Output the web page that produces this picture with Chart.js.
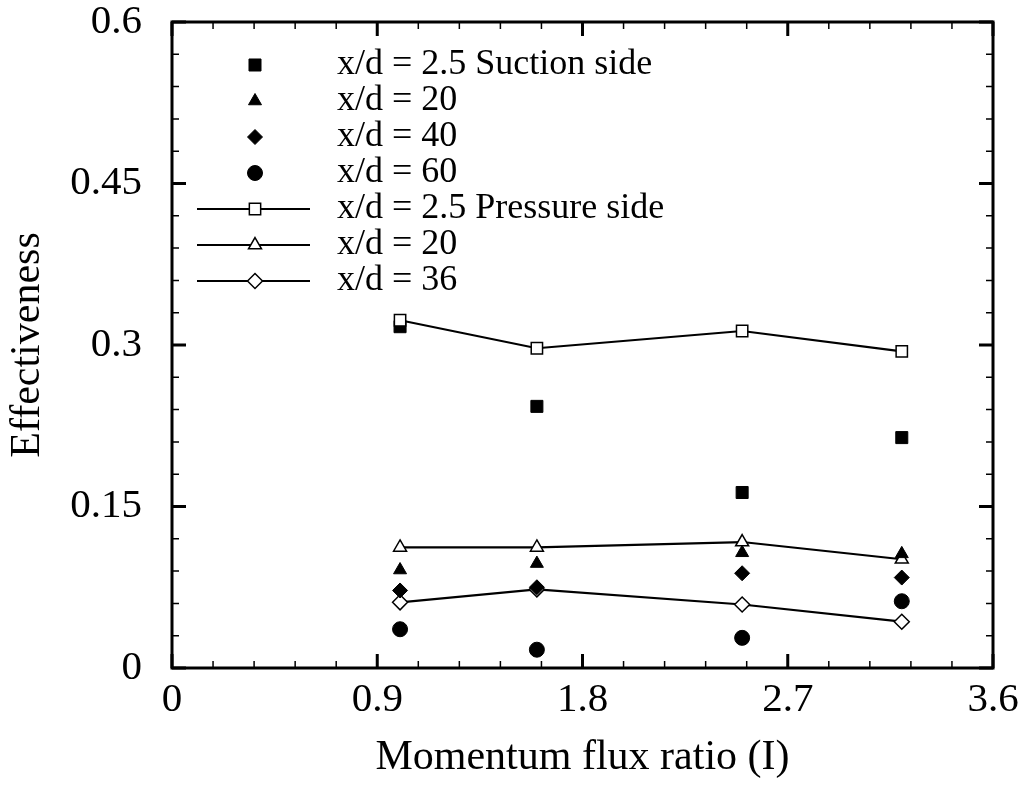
<!DOCTYPE html>
<html>
<head>
<meta charset="utf-8">
<title>Effectiveness vs momentum flux ratio</title>
<script src="https://cdn.jsdelivr.net/npm/chart.js@4/dist/chart.umd.min.js"></script>
<style>
  html, body { margin: 0; padding: 0; background: #ffffff; }
  #wrap { width: 1019px; height: 793px; position: relative; }
</style>
</head>
<body>
<div id="wrap"><canvas id="chart"></canvas></div>
<script>
// Momentum flux ratio I at which the measurements were taken
const momentumRatio = [1.0, 1.6, 2.5, 3.2];

// Suction side effectiveness (symbols only)
const suction25 = [0.317, 0.243, 0.163, 0.214];
const suction20 = [0.091, 0.097, 0.107, 0.106];
const suction40 = [0.072, 0.075, 0.088, 0.084];
const suction60 = [0.036, 0.017, 0.028, 0.062];

// Pressure side effectiveness (symbols joined by lines)
const pressure25 = [0.323, 0.297, 0.313, 0.294];
const pressure20 = [0.112, 0.112, 0.117, 0.101];
const pressure36 = [0.061, 0.073, 0.059, 0.043];

// Series labels
const seriesLabels = [
  'x/d = 2.5 Suction side',
  'x/d = 20',
  'x/d = 40',
  'x/d = 60',
  'x/d = 2.5 Pressure side',
  'x/d = 20',
  'x/d = 36'
];

// Axis ticks
const xTickValues = [0, 0.9, 1.8, 2.7, 3.6];
const xTickLabels = ['0', '0.9', '1.8', '2.7', '3.6'];
const yTickValues = [0, 0.15, 0.3, 0.45, 0.6];
const yTickLabels = ['0', '0.15', '0.3', '0.45', '0.6'];

const SERIF = "'Liberation Serif', 'Times New Roman', serif";

function toPoints(xs, ys) {
  return xs.map((x, i) => ({ x: x, y: ys[i] }));
}

function symbolSet(label, values, style, radius, order) {
  return {
    label: label,
    data: toPoints(momentumRatio, values),
    showLine: false,
    pointStyle: style,
    pointRadius: radius,
    pointHoverRadius: radius,
    pointBackgroundColor: '#000000',
    pointBorderColor: '#000000',
    pointBorderWidth: 1,
    order: order,
    legendLine: false
  };
}

function lineSet(label, values, style, radius, order) {
  return {
    label: label,
    data: toPoints(momentumRatio, values),
    showLine: true,
    borderColor: '#000000',
    borderWidth: 2.2,
    pointStyle: style,
    pointRadius: radius,
    pointHoverRadius: radius,
    pointBackgroundColor: '#ffffff',
    pointBorderColor: '#000000',
    pointBorderWidth: 1.5,
    order: order,
    legendLine: true
  };
}

const datasets = [
  symbolSet(seriesLabels[0], suction25, 'rect', 8.5, 2),
  symbolSet(seriesLabels[1], suction20, 'triangle', 7.5, 0),
  symbolSet(seriesLabels[2], suction40, 'rectRot', 7.5, 0),
  symbolSet(seriesLabels[3], suction60, 'circle', 7.5, 0),
  lineSet(seriesLabels[4], pressure25, 'rect', 8, 1),
  lineSet(seriesLabels[5], pressure20, 'triangle', 7.5, 3),
  lineSet(seriesLabels[6], pressure36, 'rectRot', 7.5, 3)
];

// Frame with inward major/minor ticks on all four sides
const framePlugin = {
  id: 'frame',
  afterDatasetsDraw(chart) {
    const { ctx, chartArea: a, scales: { x, y } } = chart;
    const majorLen = 14, minorLen = 7, minorDiv = 5;
    ctx.save();
    ctx.strokeStyle = '#000000';
    ctx.lineCap = 'butt';

    const drawTicks = (values, scale, horizontal) => {
      for (let i = 0; i < values.length; i++) {
        const p = scale.getPixelForValue(values[i]);
        ctx.lineWidth = 3;
        ctx.beginPath();
        if (horizontal) {
          ctx.moveTo(p, a.bottom); ctx.lineTo(p, a.bottom - majorLen);
          ctx.moveTo(p, a.top); ctx.lineTo(p, a.top + majorLen);
        } else {
          ctx.moveTo(a.left, p); ctx.lineTo(a.left + majorLen, p);
          ctx.moveTo(a.right, p); ctx.lineTo(a.right - majorLen, p);
        }
        ctx.stroke();
        if (i < values.length - 1) {
          const step = (values[i + 1] - values[i]) / minorDiv;
          ctx.lineWidth = 1.5;
          ctx.beginPath();
          for (let k = 1; k < minorDiv; k++) {
            const q = scale.getPixelForValue(values[i] + k * step);
            if (horizontal) {
              ctx.moveTo(q, a.bottom); ctx.lineTo(q, a.bottom - minorLen);
              ctx.moveTo(q, a.top); ctx.lineTo(q, a.top + minorLen);
            } else {
              ctx.moveTo(a.left, q); ctx.lineTo(a.left + minorLen, q);
              ctx.moveTo(a.right, q); ctx.lineTo(a.right - minorLen, q);
            }
          }
          ctx.stroke();
        }
      }
    };
    drawTicks(xTickValues, x, true);
    drawTicks(yTickValues, y, false);

    ctx.lineWidth = 3;
    ctx.strokeRect(a.left, a.top, a.right - a.left, a.bottom - a.top);
    ctx.restore();
  }
};

// Legend stacked inside the plot: symbol-only entries, then line + symbol entries
const legendPlugin = {
  id: 'insetLegend',
  afterDraw(chart, args, opts) {
    const { ctx } = chart;
    const sets = chart.data.datasets;
    ctx.save();
    ctx.font = opts.fontSize + 'px ' + SERIF;
    ctx.fillStyle = '#000000';
    ctx.textBaseline = 'middle';
    ctx.textAlign = 'left';
    sets.forEach((ds, i) => {
      const cy = opts.top + i * opts.rowGap;
      if (ds.legendLine) {
        ctx.strokeStyle = ds.borderColor;
        ctx.lineWidth = ds.borderWidth;
        ctx.beginPath();
        ctx.moveTo(opts.lineStart, cy);
        ctx.lineTo(opts.lineEnd, cy);
        ctx.stroke();
      }
      const style = {
        pointStyle: ds.pointStyle,
        radius: ds.pointRadius,
        rotation: 0,
        borderWidth: ds.pointBorderWidth
      };
      ctx.fillStyle = ds.pointBackgroundColor;
      ctx.strokeStyle = ds.pointBorderColor;
      ctx.lineWidth = ds.pointBorderWidth;
      Chart.helpers.drawPoint(ctx, style, opts.markerX, cy);
      ctx.fillStyle = '#000000';
      ctx.fillText(ds.label, opts.textX, cy);
    });
    ctx.restore();
  }
};

new Chart(document.getElementById('chart'), {
  type: 'scatter',
  data: { datasets: datasets },
  plugins: [framePlugin, legendPlugin],
  options: {
    responsive: true,
    maintainAspectRatio: false,
    animation: false,
    events: [],
    layout: { padding: { top: 22, right: 26, left: 0, bottom: 0 } },
    plugins: {
      legend: { display: false },
      tooltip: { enabled: false },
      insetLegend: {
        top: 65, rowGap: 36,
        lineStart: 197, lineEnd: 310, markerX: 255, textX: 337,
        fontSize: 36
      }
    },
    scales: {
      x: {
        type: 'linear',
        min: 0, max: 3.6,
        grid: { display: false },
        border: { display: false },
        afterBuildTicks(scale) {
          scale.ticks = xTickValues.map(v => ({ value: v }));
        },
        afterFit(scale) {
          scale.height = 125;
          scale.paddingLeft = 0;
          scale.paddingRight = 0;
        },
        ticks: {
          autoSkip: false,
          maxRotation: 0,
          padding: 4,
          color: '#000000',
          font: { family: SERIF, size: 41, lineHeight: 1 },
          callback: (value, index) => xTickLabels[index]
        },
        title: {
          display: true,
          text: 'Momentum flux ratio (I)',
          color: '#000000',
          font: { family: SERIF, size: 42, lineHeight: 1 },
          padding: { top: 0, bottom: 14 }
        }
      },
      y: {
        type: 'linear',
        min: 0, max: 0.6,
        grid: { display: false },
        border: { display: false },
        afterBuildTicks(scale) {
          scale.ticks = yTickValues.map(v => ({ value: v }));
        },
        afterFit(scale) {
          scale.width = 172;
          scale.paddingTop = 0;
          scale.paddingBottom = 0;
        },
        ticks: {
          autoSkip: false,
          padding: 22,
          color: '#000000',
          font: { family: SERIF, size: 41, lineHeight: 1 },
          callback: (value, index) => yTickLabels[index]
        },
        title: {
          display: true,
          text: 'Effectiveness',
          color: '#000000',
          font: { family: SERIF, size: 42, lineHeight: 1 },
          padding: { top: 7, bottom: 0 }
        }
      }
    }
  }
});
</script>
</body>
</html>
